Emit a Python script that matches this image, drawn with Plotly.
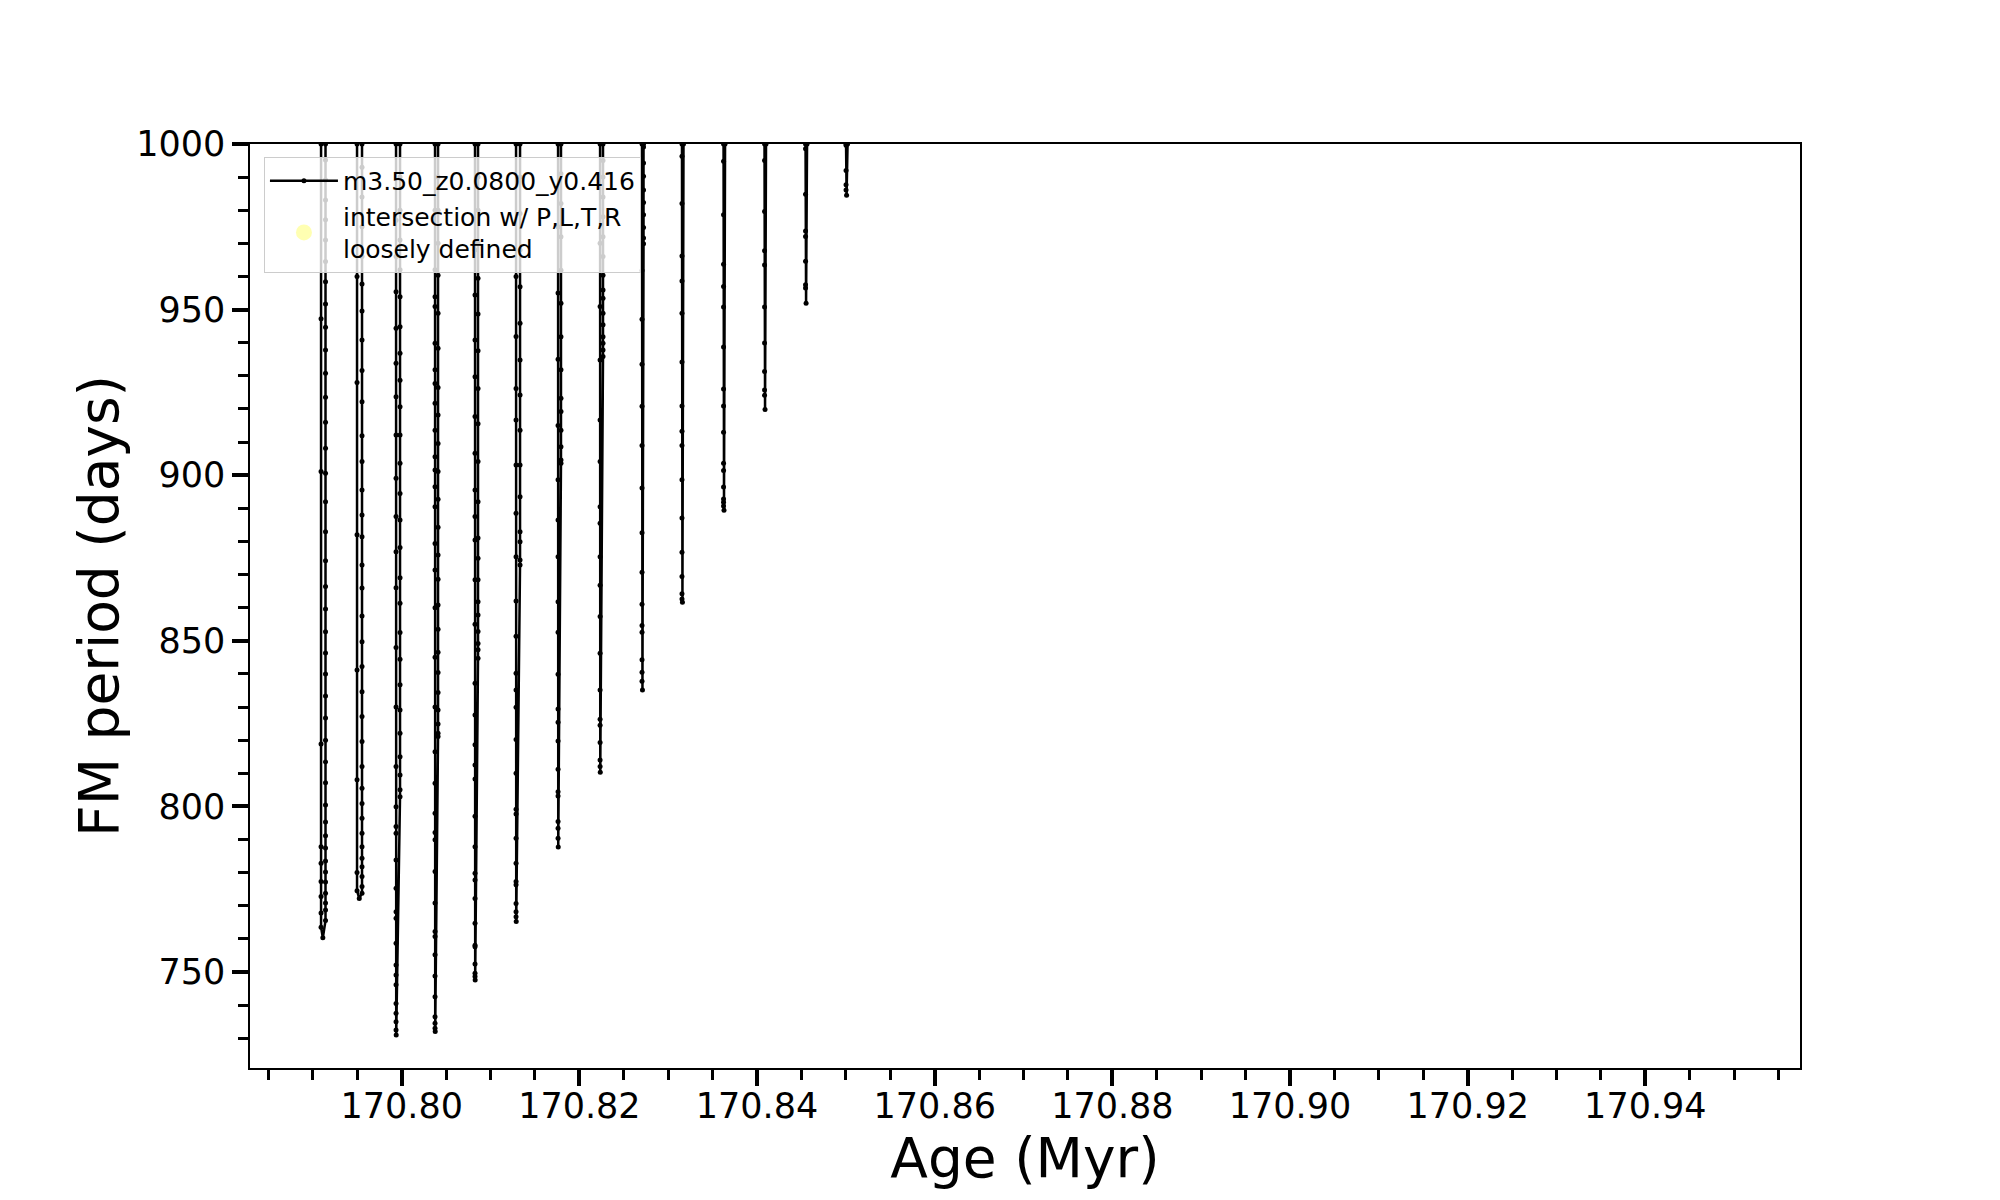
import plotly.graph_objects as go

# ---------------- data ----------------
series_name = "m3.50_z0.0800_y0.416"
intersection_name = "intersection w/ P,L,T,R<br>loosely defined"

# ages (Myr) of the descending (left) and ascending (right) branch of each dip
spike_left_age = [170.79092, 170.79497, 170.79936, 170.80375, 170.80825, 170.81287, 170.81760,
                  170.82233, 170.82705, 170.83155, 170.83623, 170.84084, 170.84546, 170.85002]
spike_right_age = [170.79142, 170.79553, 170.79981, 170.80409, 170.80859, 170.81332, 170.81793,
                   170.82266, 170.82722, 170.83172, 170.83640, 170.84101, 170.84563, 170.85019]
spike_min_age = [170.79112, 170.79522, 170.79938, 170.80377, 170.80827, 170.81289, 170.81762,
                 170.82235, 170.82710, 170.83160, 170.83628, 170.84090, 170.84552, 170.85008]
spike_min_period = [760.3, 772.2, 731.0, 732.0, 747.6, 765.2, 787.7, 810.3, 835.1, 861.6,
                    889.4, 919.8, 951.9, 984.5]

# FM period (days) of the model points on each descending branch (top -> bottom)
left_branch_periods = [
    [1000, 947.2, 901.1, 818.8, 787.8, 782.8, 777.3, 772.8, 767.8, 763.5],
    [1000, 960.0, 928.0, 882.0, 841.2, 808.0, 780.0, 774.5],
    [1000, 977, 966, 955.4, 944.4, 933.8, 923.7, 912.1, 899.1, 887.5, 876.9, 866, 848, 830, 812,
     799.9, 793.9, 791.9, 783.8, 775.3, 768.2, 766.2, 758.7, 752.1, 749.1, 746.1, 740.5, 737.5,
     735.0, 732.5],
    [1000, 980, 962, 953.9, 950.9, 939.8, 931.8, 927.7, 921.7, 913.6, 905.6, 901.6, 896.5, 890.5,
     879.4, 871.4, 860, 845, 830, 816.5, 807.0, 797.9, 792.1, 789.9, 780.3, 770.8, 762.2, 760.7,
     755.2, 748.8, 742.5, 736.5, 734.5, 733.0],
    [1000, 968, 954.4, 940.8, 929.7, 917.7, 906.6, 895.5, 887.5, 880.4, 868.4, 855, 837.2, 827.6,
     818.6, 812.5, 808.3, 797.0, 787.8, 779.8, 777.8, 772.2, 764.7, 758.1, 757.6, 752.4, 749.6,
     748.6],
    [1000, 960, 941.9, 926.2, 916.7, 903.1, 888.5, 875.4, 862, 851.4, 840.2, 835.1, 829.9, 820.2,
     810.0, 799.1, 797.7, 790.4, 782.8, 777.3, 776.3, 770.7, 768.2, 766.7],
    [1000, 975, 955, 935, 915, 898.6, 886.5, 875.4, 861.8, 852.6, 839.9, 829.4, 825.4, 819.7,
     811.2, 804.4, 803.1, 795.4, 793.4, 790.4],
    [1000, 970, 950.9, 934.8, 916.7, 904.1, 890.5, 885.5, 875.4, 866.8, 857.3, 846.2, 835.1,
     826.3, 824.5, 819.3, 814.0, 812],
    [1000, 961.8, 947.1, 933.5, 920.8, 909.0, 896.1, 882.6, 870.7, 861.0, 854.6, 852.6, 844.3,
     840.5, 837.8],
    [1000, 996.3, 982.0, 966.2, 958.6, 948.9, 934.2, 920.9, 913.3, 909.0, 898.6, 887.1, 876.7,
     869.4, 864.2, 862.6],
    [1000, 994.8, 978.6, 963.7, 957.0, 950.8, 938.7, 926.0, 920.9, 913.0, 903.6, 901.4, 896.4,
     892.8, 891.8, 890.7],
    [1000, 995.0, 979.6, 967.8, 963.5, 950.8, 939.9, 931.3, 925.7, 924.1],
    [1000, 998.6, 984.8, 973.7, 972.1, 964.6, 957.5, 956.5],
    [1000, 999.6, 992.0, 987.7, 986.1],
]

# FM period (days) of the model points on each ascending branch (bottom -> top)
right_branch_periods = [
    [765.5, 768.7, 770.8, 773.8, 777.2, 780.2, 783.5, 787.4, 791.1, 795.3, 800.4, 807.1, 813.4,
     820.0, 826.7, 833.3, 840.0, 846.3, 852.7, 859.6, 866.4, 874.2, 882.9, 892.0, 900.6, 908.1,
     916.0, 923.5, 930.8, 937.8, 944.7, 951.7, 958.4, 964.5, 971.0, 977.1, 983.1, 989.1, 995.2,
     1000],
    [773.8, 775.8, 778.8, 781.8, 784.3, 787.8, 791.9, 796.4, 800.9, 805.5, 812.0, 819.6, 827.1,
     834.6, 842.2, 849.7, 857.5, 865.9, 872.9, 881.4, 888.0, 895.5, 904.1, 911.9, 922.2, 931.6,
     940.8, 949.6, 957.7, 966, 975, 984, 993, 1000],
    [802.9, 805.0, 809.5, 815.0, 822.1, 829.1, 836.7, 844.4, 852.5, 861.3, 869, 878.2, 886.5,
     894.5, 903.6, 912.1, 920.7, 928.7, 936.8, 944.8, 953.9, 962, 971, 980, 990, 1000],
    [821.1, 822.1, 824.9, 829.1, 834.4, 840.4, 846.5, 853.5, 860.8, 868.6, 875.9, 884.3, 892.7,
     901.1, 909.6, 918.2, 926.5, 938.3, 948.9, 960.4, 970, 980, 990, 1000],
    [844.7, 847.3, 849.2, 852.8, 857.8, 861.8, 868.4, 874.9, 881.0, 892.0, 904.1, 915.5, 926.2,
     937.6, 948.7, 959.5, 970, 980, 990, 1000],
    [872.9, 874.4, 879.9, 882.9, 893.5, 903.1, 913.6, 924.2, 934.8, 945.9, 956.9, 968, 979, 990,
     1000],
    [903.6, 904.6, 908.6, 913.6, 919.2, 923.2, 931.8, 941.8, 951.9, 961.9, 972, 982, 991, 1000],
    [935.8, 937.8, 939.8, 941.8, 945.4, 948.9, 953.4, 955.9, 960.4, 966, 972, 978, 984, 990, 995,
     1000],
    [969.9, 971.6, 974.8, 978.6, 982.3, 986.1, 990.3, 994.3, 999.1, 1000],
    [1000],
    [1000],
    [1000],
    [1000],
    [1000],
]

x_range = [170.78292, 170.95741]
y_range = [721.0, 1000.0001]
y_ticks = [750, 800, 850, 900, 950, 1000]
x_tick0 = 170.80
x_dtick = 0.02

# ---------------- build track ----------------
ages, periods = [], []
for i in range(len(spike_left_age)):
    for p in left_branch_periods[i]:
        ages.append(spike_left_age[i])
        periods.append(p)
    ages.append(spike_min_age[i])
    periods.append(spike_min_period[i])
    for p in right_branch_periods[i]:
        ages.append(spike_right_age[i])
        periods.append(p)
    ages.append(None)
    periods.append(None)

FONT = "DejaVu Sans"

fig = go.Figure()
fig.add_trace(go.Scatter(
    x=ages, y=periods, mode="lines+markers", name=series_name,
    line=dict(color="black", width=2.5),
    marker=dict(color="black", size=5),
    connectgaps=False, cliponaxis=True,
))
fig.add_trace(go.Scatter(
    x=[None], y=[None], mode="markers", name=intersection_name,
    marker=dict(color="rgba(255,255,0,0.3)", size=18),
))

# page body has an 8px margin: the figure is sized/offset to compensate
fig.update_layout(
    width=1992, height=1192,
    margin=dict(l=242, r=200, t=136, b=132),
    paper_bgcolor="white", plot_bgcolor="white",
    font=dict(family=FONT, color="black"),
    showlegend=True,
    legend=dict(
        x=0.009, y=0.986, xanchor="left", yanchor="top",
        bgcolor="rgba(255,255,255,0.8)", bordercolor="#cccccc", borderwidth=1,
        font=dict(family=FONT, size=25, color="black"),
        itemwidth=68, tracegroupgap=2,
    ),
    xaxis=dict(
        range=x_range, tick0=x_tick0, dtick=x_dtick, tickformat=".2f",
        showgrid=False, zeroline=False,
        showline=True, mirror=True, linecolor="black", linewidth=1.5,
        ticks="outside", ticklen=16, tickwidth=4, tickcolor="black",
        ticklabelstandoff=-10,
        tickfont=dict(family=FONT, size=35, color="black"),
        minor=dict(dtick=0.005, tick0=x_tick0, ticks="outside", ticklen=10, tickwidth=3,
                   tickcolor="black", showgrid=False),
        title=dict(text="Age (Myr)", font=dict(family=FONT, size=55, color="black"), standoff=6),
    ),
    yaxis=dict(
        range=y_range, tickvals=y_ticks,
        showgrid=False, zeroline=False,
        showline=True, mirror=True, linecolor="black", linewidth=1.5,
        ticks="outside", ticklen=16, tickwidth=4, tickcolor="black",
        tickfont=dict(family=FONT, size=35, color="black"),
        minor=dict(dtick=10, tick0=750, ticks="outside", ticklen=10, tickwidth=3,
                   tickcolor="black", showgrid=False),
        title=dict(text="FM period (days)", font=dict(family=FONT, size=55, color="black"),
                   standoff=0),
    ),
)

fig.write_html("out.html")
